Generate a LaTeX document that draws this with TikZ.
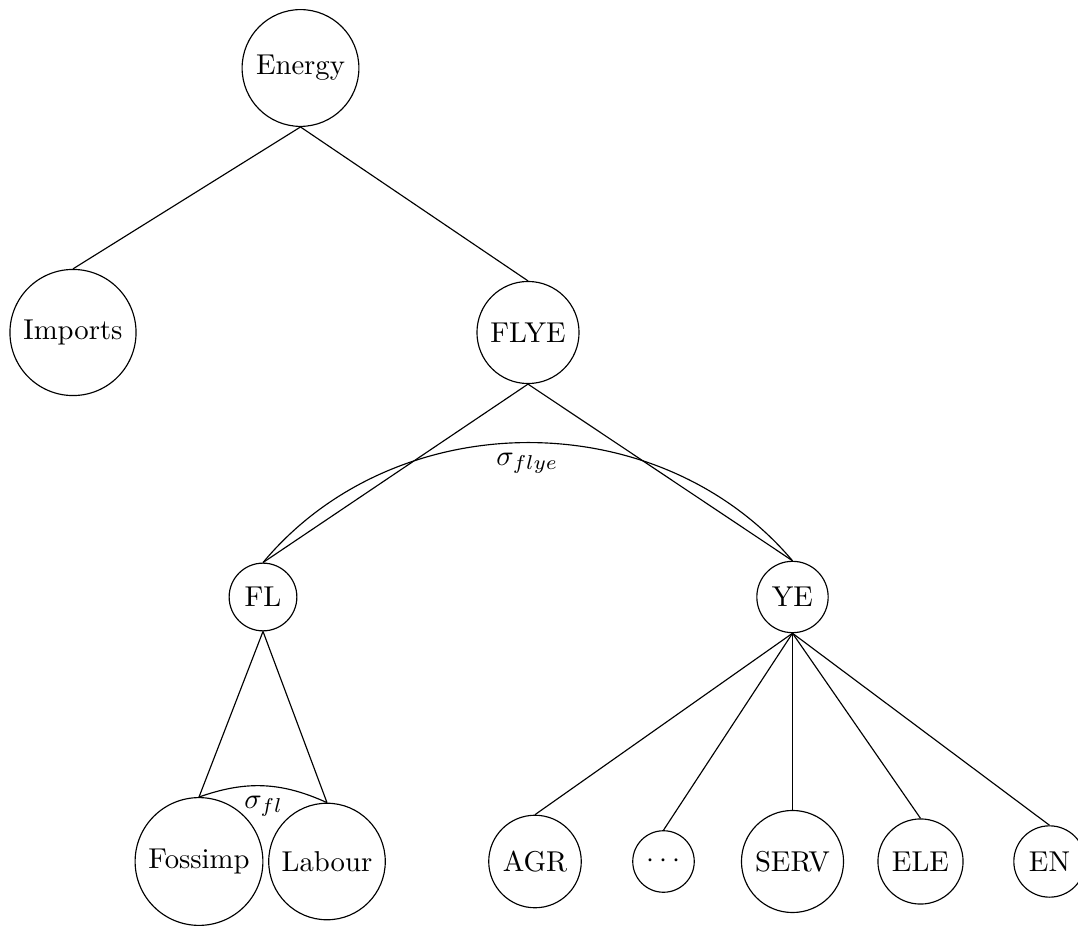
\documentclass[tikz,border=0pt]{standalone}
\begin{document}
\begin{tikzpicture}[x=0.34843pt,y=-0.34843pt,
  tn/.style={draw,circle},
  conn/.style={draw},
  lbl/.style={midway,below}]
\useasboundingbox (0,0) rectangle (1078,927);
% level 0
\node[tn] (energy) at (300.5,68) {Energy};
% level 1
\node[tn] (imports) at (73,332.5) {Imports};
\node[tn] (flye) at (528,332.5) {FLYE};
% level 2
\node[tn] (fl) at (263,597) {FL};
\node[tn] (ye) at (792.5,597) {YE};
% level 3
\node[tn] (fossimp) at (199,861.5) {Fossimp};
\node[tn] (labour) at (327,861.5) {Labour};
\node[tn] (agr) at (535,861.5) {AGR};
\node[tn] (dots) at (663.5,861.5) {$\cdots$};
\node[tn] (serv) at (792.5,861.5) {SERV};
\node[tn] (ele) at (920.5,861.5) {ELE};
\node[tn] (en) at (1049.5,861.5) {EN};
% edges
\draw (energy.south) -- (imports.north);
\draw (energy.south) -- (flye.north);
\draw (flye.south) -- (fl.north);
\draw (flye.south) -- (ye.north);
\draw (fl.south) -- (fossimp.north);
\draw (fl.south) -- (labour.north);
\draw (ye.south) -- (agr.north);
\draw (ye.south) -- (dots.north);
\draw (ye.south) -- (serv.north);
\draw (ye.south) -- (ele.north);
\draw (ye.south) -- (en.north);
% elasticity arcs
\draw (fl.north) to[bend left=50] node[lbl] {$\sigma_{flye}$} (ye.north);
\draw (fossimp.north) to[bend left=22] node[lbl] {$\sigma_{fl}$} (labour.north);
\end{tikzpicture}
\end{document}
